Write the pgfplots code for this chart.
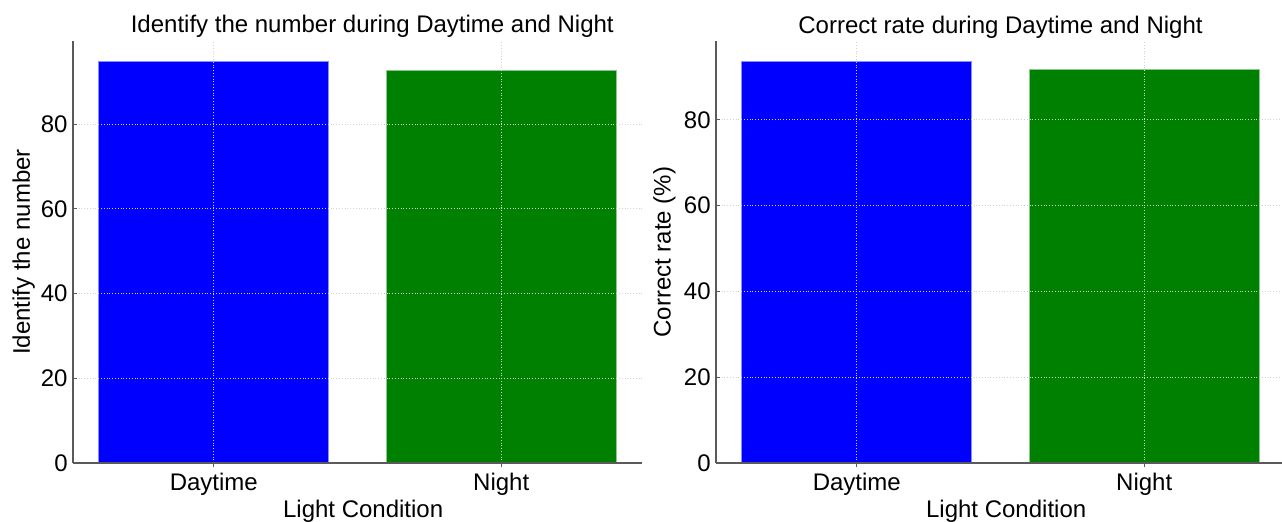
\documentclass[border=0pt]{standalone}
\usepackage{fontspec}
\setmainfont{Liberation Sans}
\usepackage{pgfplots}
\pgfplotsset{compat=1.18}
\definecolor{mgreen}{RGB}{0,128,0}
\definecolor{mblue}{RGB}{0,0,255}
\definecolor{spine}{RGB}{90,90,90}
\pgfplotsset{
  mystyle/.style={
    scale only axis, width=284.5pt, height=211pt,
    anchor=south west,
    font=\fontsize{12}{14}\selectfont,
    /pgf/number format/assume math mode=true,
    xmin=-0.49, xmax=1.49, ymin=0,
    axis lines*=left,
    axis line style={spine, line width=0.75pt},
    xtick={0,1}, xticklabels={Daytime,Night},
    ytick={0,20,40,60,80},
    grid=major,
    grid style={densely dotted, gray!35, line width=0.5pt},
    axis on top,
    tick align=inside,
    major tick length=2pt,
    tick style={spine, line width=0.5pt},
    yticklabel style={inner sep=0pt, xshift=-2.5pt},
    xticklabel style={inner sep=0pt, yshift=-3pt},
    xlabel={Light Condition},
    xlabel style={at={(axis description cs:0.51,0)}, anchor=north, inner sep=0pt, yshift=-18.3pt},
    title style={anchor=base, inner sep=0pt, yshift=-2pt},
    ybar, bar width=0.8, bar shift=0pt,
  },
}
\begin{document}
\begin{tikzpicture}
\path[use as bounding box] (0,0) rectangle (641pt,-260.5pt);
\begin{axis}[mystyle, at={(36.5pt,-231.5pt)}, ymax=99.6,
  title={Identify the number during Daytime and Night},
  title style={at={(axis description cs:0.526,1)}},
  ylabel={Identify the number},
  ylabel style={at={(axis description cs:-0.107,0.5)}, anchor=north, inner sep=0pt},
]
\addplot[fill=mblue, draw=mblue!45!white, line width=0.4pt] coordinates {(0,94.9)};
\addplot[fill=mgreen, draw=mgreen!45!white, line width=0.4pt] coordinates {(1,92.7)};
\end{axis}
\begin{axis}[mystyle, at={(358pt,-231.5pt)}, ymax=98.4,
  title={Correct rate during Daytime and Night},
  title style={at={(axis description cs:0.5,1)}},
  ylabel={Correct rate (\%)},
  ylabel style={at={(axis description cs:-0.111,0.5)}, anchor=north, inner sep=0pt},
]
\addplot[fill=mblue, draw=mblue!45!white, line width=0.4pt] coordinates {(0,93.7)};
\addplot[fill=mgreen, draw=mgreen!45!white, line width=0.4pt] coordinates {(1,91.7)};
\end{axis}
\end{tikzpicture}
\end{document}
